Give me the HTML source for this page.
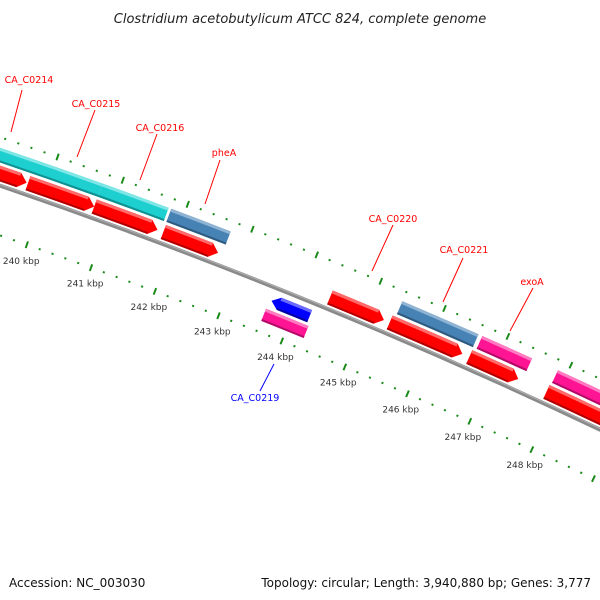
<!DOCTYPE html>
<html><head><meta charset="utf-8"><style>
html,body{margin:0;padding:0;background:#fff;}
svg{display:block;font-family:"DejaVu Sans","Liberation Sans",sans-serif;}
</style></head><body>
<svg id="chart" width="600" height="600" viewBox="0 0 600 600">
<text x="300" y="23" text-anchor="middle" font-size="13" font-style="italic" fill="#222">Clostridium acetobutylicum ATCC 824, complete genome</text>
<g id="ticks"></g>
<g id="backbone"></g>
<g id="genes"></g>
<g id="labels"></g>
<text x="9" y="587" font-size="12" fill="#111">Accession: NC_003030</text>
<text x="591" y="587" font-size="12" fill="#111" text-anchor="end">Topology: circular; Length: 3,940,880 bp; Genes: 3,777</text>
</svg>
<script>
// data (kbp)
const redStarts = [238.9, 239.72, 240.74, 241.81, 244.41, 245.35, 246.61, 247.84];
const redEnds   = [239.70, 240.74, 241.72, 242.66, 245.26, 246.50, 247.39, 249.2];
const featStarts = [238.3, 240.74, 241.80, 245.40, 246.66, 247.86];
const featEnds   = [240.74, 241.76, 242.72, 246.60, 247.45, 249.2];
const featColors = ['#1ecfcf', '#1ecfcf', '#4682b4', '#4682b4', '#ff1493', '#ff1493'];
const revStarts = [243.64, 243.61];
const revEnds   = [244.24, 244.28];
const revColors = ['#0000ff', '#ff1493'];
const tickKbp = [240, 241, 242, 243, 244, 245, 246, 247, 248];
const tickText = ['240 kbp','241 kbp','242 kbp','243 kbp','244 kbp','245 kbp','246 kbp','247 kbp','248 kbp'];
const labelNames = ['CA_C0214','CA_C0215','CA_C0216','pheA','CA_C0220','CA_C0221','exoA','CA_C0219'];
const labelColors = ['red','red','red','red','red','red','red','blue'];

const NS='http://www.w3.org/2000/svg';
const CX=-1830, CY=5547;
function ang(k){return (-70.70+0.695*(k-240))*Math.PI/180;}
function P(k,r){const a=ang(k);return [CX+r*Math.cos(a), CY+r*Math.sin(a)];}
function f(p){return p[0].toFixed(2)+' '+p[1].toFixed(2);}
function mk(tag,attrs,parent){const e=document.createElementNS(NS,tag);for(const k in attrs)e.setAttribute(k,attrs[k]);parent.appendChild(e);return e;}
function arcPath(k1,k2,r){return 'M'+f(P(k1,r))+' A'+r+' '+r+' 0 0 1 '+f(P(k2,r));}

const tickG=document.getElementById('ticks');
for(let i=0;i<=80;i++){
  const k=236+i*0.2;
  const major=Math.abs(k-Math.round(k))<1e-6;
  [5618,5711].forEach(r=>{
    const h=major?3.5:1;
    const a=P(k,r-h), b=P(k,r+h);
    const l=mk('line',{x1:a[0],y1:a[1],x2:b[0],y2:b[1],stroke:'#1a8a1a','stroke-width':2},tickG);
    
    
  });
}
tickKbp.forEach((k,i)=>{
  const p=P(k,5601);
  const t=mk('text',{x:p[0],y:p[1]+3,'text-anchor':'middle','font-size':9,fill:'#333'},tickG);
  t.textContent=tickText[i];
  
  
});

const bb=document.getElementById('backbone');
const bl=mk('path',{d:arcPath(235,252,5665),fill:'none',stroke:'#8a8a8a','stroke-width':4},bb);


mk('path',{d:arcPath(235,252,5666),fill:'none',stroke:'#b0b0b0','stroke-width':1},bb);

function lighten(c){return c==='#ff0000'?'#ff6a6a':c==='#1ecfcf'?'#7fe6e6':c==='#4682b4'?'#8fb3d3':c==='#ff1493'?'#ff7ac0':'#6a6aff';}
function darken(c){return c==='#ff0000'?'#b00000':c==='#1ecfcf'?'#109090':c==='#4682b4'?'#2e5a80':c==='#ff1493'?'#b00c66':'#0000a0';}
const gG=document.getElementById('genes');
function gene(k1,k2,r0,r1,color,dir,name){
  const tip=0.12, rm=(r0+r1)/2;
  let d;
  if(dir===1){
    const ke=k2-tip;
    d='M'+f(P(k1,r1))+' A'+r1+' '+r1+' 0 0 1 '+f(P(ke,r1))+' L'+f(P(k2,rm))+' L'+f(P(ke,r0))+' A'+r0+' '+r0+' 0 0 0 '+f(P(k1,r0))+' Z';
  }else if(dir===-1){
    const ks=k1+tip;
    d='M'+f(P(ks,r1))+' A'+r1+' '+r1+' 0 0 1 '+f(P(k2,r1))+' L'+f(P(k2,r0))+' A'+r0+' '+r0+' 0 0 0 '+f(P(ks,r0))+' L'+f(P(k1,rm))+' Z';
  }else{
    d='M'+f(P(k1,r1))+' A'+r1+' '+r1+' 0 0 1 '+f(P(k2,r1))+' L'+f(P(k2,r0))+' A'+r0+' '+r0+' 0 0 0 '+f(P(k1,r0))+' Z';
  }
  const g=mk('g',{},gG);
  
  
  mk('path',{d:d,fill:color},g);
  const ka=dir===-1?k1+tip:k1, kb=dir===1?k2-tip:k2;
  mk('path',{d:arcPath(ka,kb,r1-1.5),fill:'none',stroke:lighten(color),'stroke-width':3},g);
  mk('path',{d:arcPath(ka,kb,r0+1),fill:'none',stroke:darken(color),'stroke-width':2},g);
}
redStarts.forEach((s,i)=>gene(s,redEnds[i],5669,5684,'#ff0000',1,'cds-forward-'+i));
featStarts.forEach((s,i)=>gene(s,featEnds[i],5687,5701,featColors[i],0,'feature-'+i));
gene(revStarts[0],revEnds[0],5645,5658,revColors[0],-1,'cds-reverse-ca-c0219');
gene(revStarts[1],revEnds[1],5629,5642,revColors[1],0,'feature-reverse-0');

// labels: [text x, text y, line x1,y1,x2,y2]
const labelPos=[[29,83,11,132,22,90],[96,107,77,157,95,110],[160,131,140,180,157,134],[224,156,205,204,220,160],[393,222,372,271,393,225],[464,253,443,302,463,258],[532,285,510,331,533,288],[255,401,274,364,260,391]];
const lG=document.getElementById('labels');
labelNames.forEach((n,i)=>{
  const p=labelPos[i];
  const ln=mk('line',{x1:p[2],y1:p[3],x2:p[4],y2:p[5],stroke:labelColors[i],'stroke-width':1},lG);
  
  
  const t=mk('text',{x:p[0],y:p[1],'text-anchor':'middle','font-size':9.5,fill:labelColors[i]},lG);
  t.textContent=n;
  
  
});
</script>
</body></html>
